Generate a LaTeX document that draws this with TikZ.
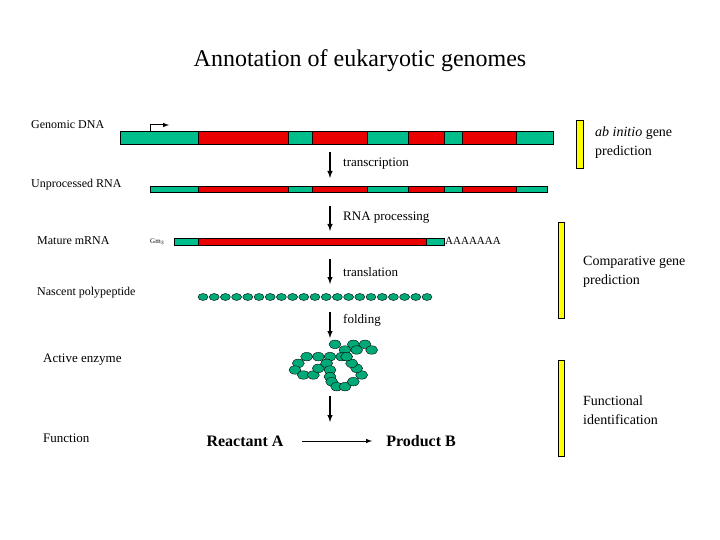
\documentclass[tikz,border=0pt]{standalone}
\usepackage{fontspec}
\setmainfont{Liberation Serif}
\begin{document}
\begin{tikzpicture}[x=1pt,y=-1pt,
 gr/.style={fill={rgb,255:red,0;green,190;blue,140},draw=black,line width=0.6pt},
 rd/.style={fill={rgb,255:red,235;green,0;blue,0},draw=black,line width=0.6pt},
 yb/.style={fill={rgb,255:red,255;green,255;blue,0},draw=black,line width=0.5pt},
 bead/.style={ellipse,fill={rgb,255:red,0;green,170;blue,120},draw=black,line width=0.4pt,minimum width=10pt,minimum height=7pt,inner sep=0pt},
 ebead/.style={bead,minimum width=12pt,minimum height=8.5pt},
 arr/.style={-latex,line width=1.4pt},
 lab/.style={font=\fontsize{12}{14}\selectfont,anchor=west,inner sep=0pt},
 rlab/.style={font=\fontsize{14}{19}\selectfont,align=left,anchor=west,inner sep=0pt}]
\usetikzlibrary{shapes.geometric}
\useasboundingbox (0,0) rectangle (720,540);
\node (title) at (360,61) {\fontsize{24}{28}\selectfont Annotation of eukaryotic genomes};
\node[lab] (l1) at (31,125) {Genomic DNA};
\node[lab] (l2) at (31,185) {Unprocessed RNA};
\node[lab] (l3) at (37,241) {Mature mRNA};
\node[lab] (l4) at (37,293) {Nascent polypeptide};
\node[lab,font=\fontsize{13}{15}\selectfont] (l5) at (43,360) {Active enzyme};
\node[lab,font=\fontsize{13}{15}\selectfont] (l6) at (43,438) {Function};
% DNA
\foreach \a/\b/\s in {120/198/gr,198/288/rd,288/312/gr,312/367/rd,367/408/gr,408/444/rd,444/462/gr,462/516/rd,516/553/gr}
  \draw[\s] (\a,131) rectangle (\b,144);
\draw[line width=1pt] (150,131) -- (150,125);
\draw[-latex,line width=1pt] (150,125) -- (169,125);
% RNA
\foreach \a/\b/\s in {150/198/gr,198/288/rd,288/312/gr,312/367/rd,367/408/gr,408/444/rd,444/462/gr,462/516/rd,516/547/gr}
  \draw[\s] (\a,186) rectangle (\b,192);
% mRNA
\node[lab,font=\fontsize{7}{8}\selectfont] (gm) at (150,242) {Gm$_3$};
\foreach \a/\b/\s in {174/198/gr,198/426/rd,426/444/gr}
  \draw[\s] (\a,238) rectangle (\b,245);
\node[lab,font=\fontsize{11}{13}\selectfont] (aa) at (445,241) {AAAAAAA};
% arrows
\coordinate (a1) at (330,152); \coordinate (b1) at (330,178);
\coordinate (a2) at (330,206); \coordinate (b2) at (330,231);
\coordinate (a3) at (330,259); \coordinate (b3) at (330,284);
\coordinate (a4) at (330,312); \coordinate (b4) at (330,338);
\coordinate (a5) at (330,396); \coordinate (b5) at (330,422);
\foreach \i in {1,...,5} \draw[arr] (a\i) -- (b\i);
\node[lab,font=\fontsize{13}{15}\selectfont] (t1) at (343,164) {transcription};
\node[lab,font=\fontsize{13}{15}\selectfont] (t2) at (343,218) {RNA processing};
\node[lab,font=\fontsize{13}{15}\selectfont] (t3) at (343,272) {translation};
\node[lab,font=\fontsize{13}{15}\selectfont] (t4) at (343,320) {folding};
% polypeptide
\foreach \i in {0,...,20} \node[bead] (p\i) at (203+11.2*\i,297) {};
% enzyme
\begin{scope}[shift={(190,285)},x=0.3333pt,y=-0.3333pt]
\foreach \px/\py [count=\k] in {435/178,490/178,525/178,545/195,500/195,465/195,455/215,420/215,385/215,350/215,325/235,315/255,340/270,370/270,385/250,410/235,420/255,420/275,425/290,440/305,465/305,490/290,515/270,500/250,485/235,470/215}
  \node[ebead] (e\k) at (\px,\py) {};
\end{scope}
% function
\node[font=\bfseries\fontsize{16}{19}\selectfont] (ra) at (245,441) {Reactant A};
\node[font=\bfseries\fontsize{16}{19}\selectfont] (pb) at (421,441) {Product B};
\coordinate (r0) at (302,441); \coordinate (r1) at (372,441);
\draw[-latex,line width=1pt] (r0) -- (r1);
% yellow bars
\draw[yb] (576,120) rectangle (583,168);
\draw[yb] (558,222) rectangle (564,318);
\draw[yb] (558,360) rectangle (564,456);
\node[rlab] (g1) at (595,143) {\textit{ab initio} gene\\prediction};
\node[rlab] (g2) at (583,272) {Comparative gene\\prediction};
\node[rlab] (g3) at (583,410) {Functional\\identification};
\end{tikzpicture}
\end{document}
